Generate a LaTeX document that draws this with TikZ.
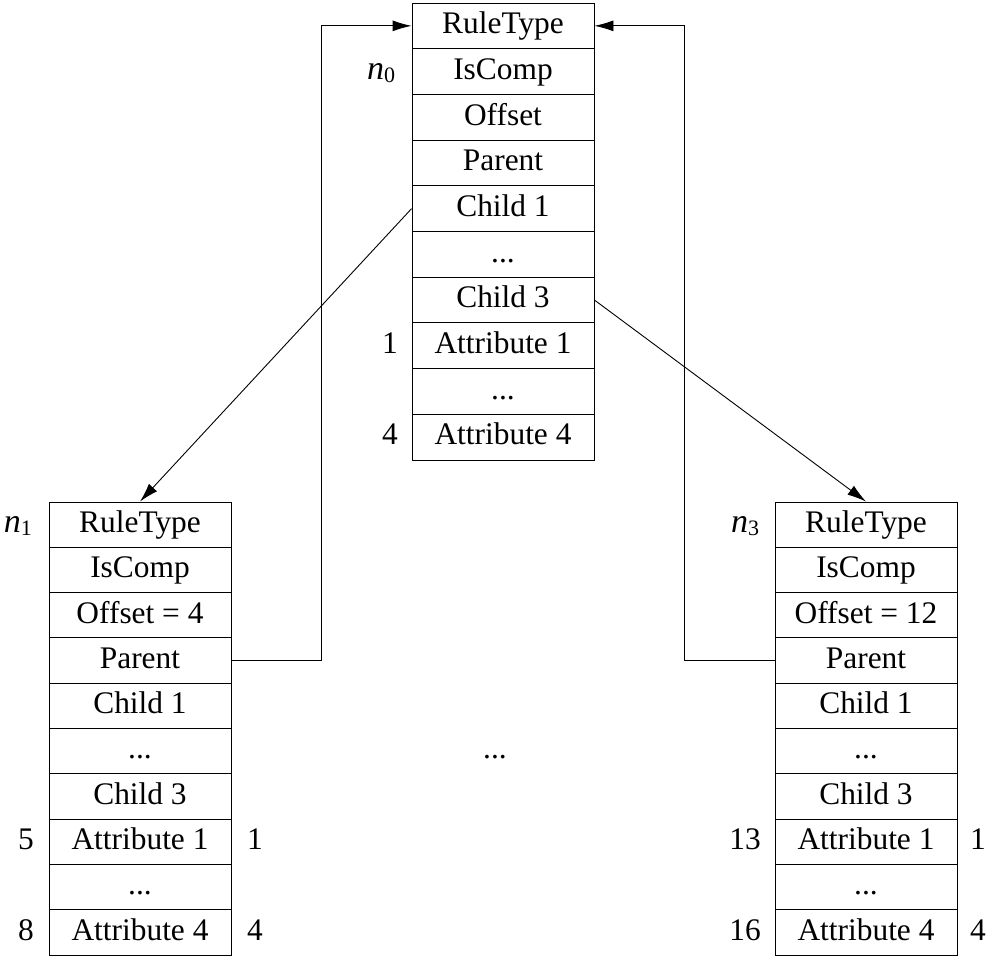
\documentclass[tikz,border=0pt]{standalone}
\usepackage{fontspec}
\setmainfont{Liberation Serif}
\usetikzlibrary{arrows.meta}
\newcommand\fsz{\fontsize{31.4}{36}\selectfont}
\newcommand\nsub[1]{{\fontsize{34}{36}\selectfont\textit{n}}\raisebox{-3pt}{\fontsize{22}{22}\selectfont #1}}
\tikzset{
  cell/.style={draw, line width=0.9pt, minimum width=182pt, minimum height=45.7pt,
    inner sep=0pt, text height=22pt, text depth=6.5pt, font=\fsz},
  lcell/.style={cell, minimum height=45.3pt},
  lbl/.style={inner sep=0pt, text height=22pt, text depth=6.5pt, font=\fsz},
  conn/.style={line width=0.9pt, -{Latex[length=19pt,width=11pt]}},
}
\begin{document}
\begin{tikzpicture}[x=1pt,y=-1pt]
\useasboundingbox (0,0) rectangle (988,956);
% top column
\node[cell] (t1) at (503,25.85) {RuleType};
\node[cell] (t2) at (503,71.55) {IsComp};
\node[cell] (t3) at (503,117.25) {Offset};
\node[cell] (t4) at (503,162.95) {Parent};
\node[cell] (t5) at (503,208.65) {Child 1};
\node[cell] (t6) at (503,254.35) {...};
\node[cell] (t7) at (503,300.05) {Child 3};
\node[cell] (t8) at (503,345.75) {Attribute 1};
\node[cell] (t9) at (503,391.45) {...};
\node[cell] (t10) at (503,437.15) {Attribute 4};
% left column
\node[lcell] (l1) at (140,524.65) {RuleType};
\node[lcell] (l2) at (140,569.95) {IsComp};
\node[lcell] (l3) at (140,615.25) {Offset = 4};
\node[lcell] (l4) at (140,660.55) {Parent};
\node[lcell] (l5) at (140,705.85) {Child 1};
\node[lcell] (l6) at (140,751.15) {...};
\node[lcell] (l7) at (140,796.45) {Child 3};
\node[lcell] (l8) at (140,841.75) {Attribute 1};
\node[lcell] (l9) at (140,887.05) {...};
\node[lcell] (l10) at (140,932.35) {Attribute 4};
% right column
\node[lcell] (r1) at (866,524.65) {RuleType};
\node[lcell] (r2) at (866,569.95) {IsComp};
\node[lcell] (r3) at (866,615.25) {Offset = 12};
\node[lcell] (r4) at (866,660.55) {Parent};
\node[lcell] (r5) at (866,705.85) {Child 1};
\node[lcell] (r6) at (866,751.15) {...};
\node[lcell] (r7) at (866,796.45) {Child 3};
\node[lcell] (r8) at (866,841.75) {Attribute 1};
\node[lcell] (r9) at (866,887.05) {...};
\node[lcell] (r10) at (866,932.35) {Attribute 4};
% labels
\node[lbl] (n0) at (381,71.55) {\nsub{0}};
\node[lbl] (n1) at (18,524.65) {\nsub{1}};
\node[lbl] (n3) at (745,524.65) {\nsub{3}};
\node[lbl] (ta1) at (390,345.75) {1};
\node[lbl] (ta4) at (390,437.15) {4};
\node[lbl] (la5) at (26,841.75) {5};
\node[lbl] (la8) at (26,932.35) {8};
\node[lbl] (lb1) at (255,841.75) {1};
\node[lbl] (lb4) at (255,932.35) {4};
\node[lbl] (ra13) at (745,841.75) {13};
\node[lbl] (ra16) at (745,932.35) {16};
\node[lbl] (rb1) at (978,841.75) {1};
\node[lbl] (rb4) at (978,932.35) {4};
\node[lbl] (mid) at (495,751.15) {...};
% connectors
\draw[conn] (t5.west) -- (l1.north);
\draw[conn] (t7.east) -- (r1.north);
\draw[conn] (l4.east) -- ++(90,0) |- (t1.west);
\draw[conn] (r4.west) -- ++(-90,0) |- (t1.east);
\end{tikzpicture}
\end{document}
